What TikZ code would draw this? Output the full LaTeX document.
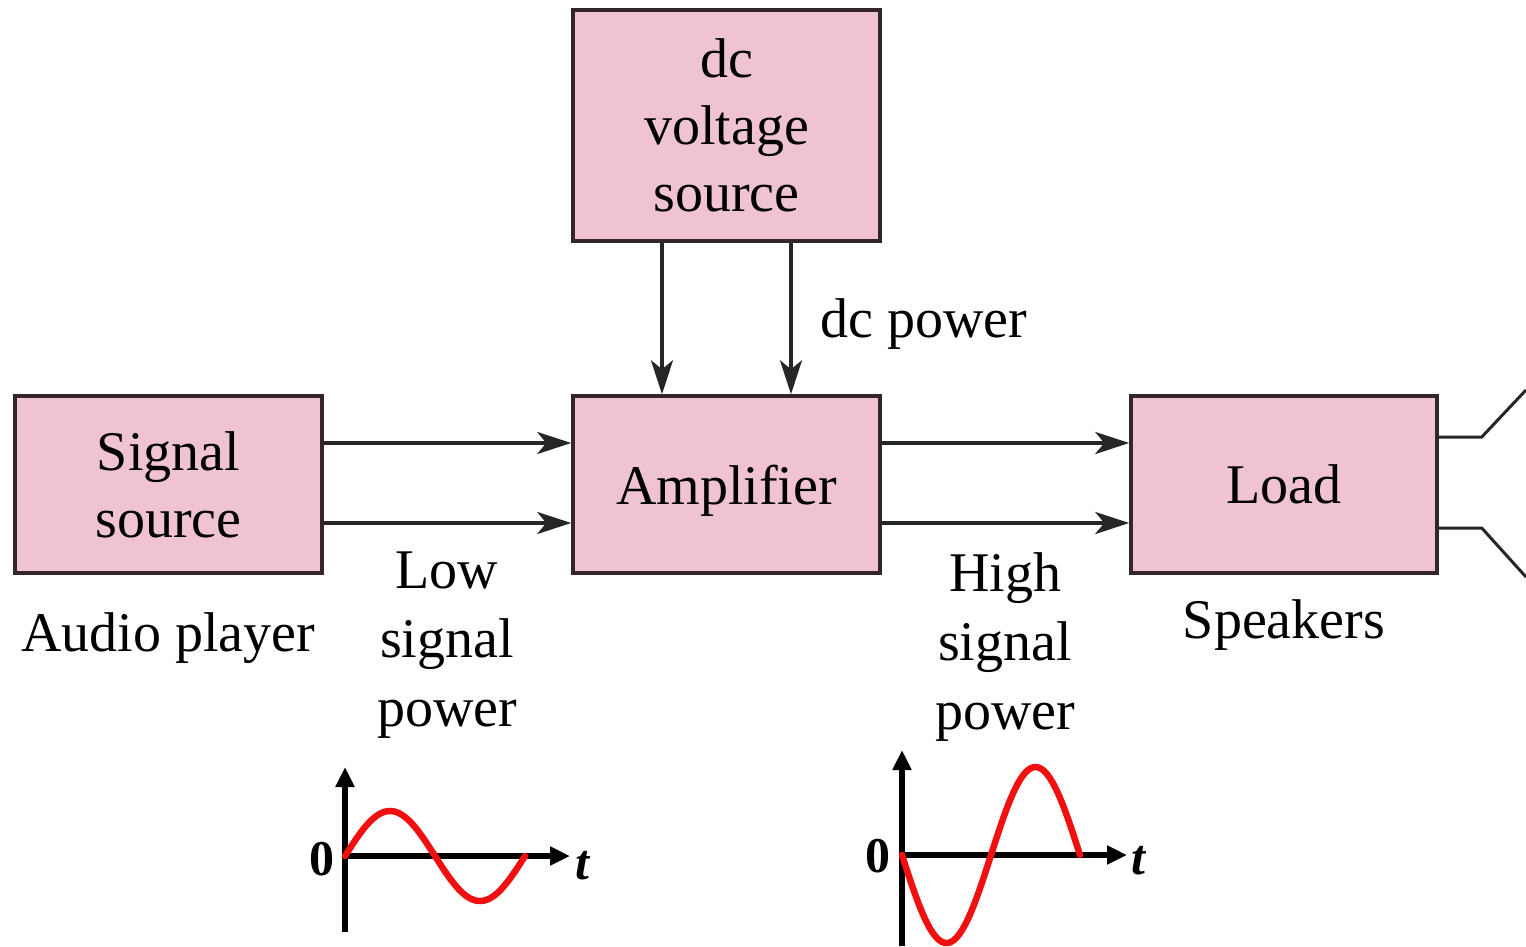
\documentclass[tikz,border=0pt]{standalone}
\usepackage{fontspec}
\setmainfont{Liberation Serif}
\usetikzlibrary{arrows.meta}
\definecolor{boxpink}{HTML}{EFC3D3}
\definecolor{boxline}{HTML}{332529}
\definecolor{wavered}{HTML}{F01010}
\tikzset{
  blk/.style={draw=boxline, fill=boxpink, line width=3.5pt, minimum width=307pt, align=center, inner sep=0pt,
              font=\fontsize{56}{67}\selectfont},
  lbl/.style={align=center, inner sep=0pt, font=\fontsize{56}{69}\selectfont},
  arr/.style={line width=3.5pt, draw=black!85, -{Stealth[length=34pt, width=22pt, inset=9pt]}},
  axis/.style={line width=5.5pt, -{Triangle[length=20pt, width=18pt]}},
  wave/.style={line width=6.5pt, wavered, line join=round, line cap=round},
  spk/.style={line width=3pt, draw=black!85},
  axlbl/.style={inner sep=0pt, font=\fontsize{50}{60}\selectfont\bfseries}
}
\begin{document}
\begin{tikzpicture}[x=1pt, y=-1pt]
\useasboundingbox (0,0) rectangle (1526,946);
% blocks
\node[blk, minimum height=231pt] (dc) at (726.5,125.5) {dc\\voltage\\source};
\node[blk, minimum height=177pt] (sig) at (168.5,484.5) {Signal\\source};
\node[blk, minimum height=177pt, text depth=0pt] (amp) at (726.5,484.5) {Amplifier};
\node[blk, minimum height=177pt, minimum width=306pt] (load) at (1284,484.5) {Load};
% connectors
\draw[arr] ([yshift=41.5pt]sig.east) -- ([yshift=41.5pt]amp.west);
\draw[arr] ([yshift=-38.5pt]sig.east) -- ([yshift=-38.5pt]amp.west);
\draw[arr] ([yshift=41.5pt]amp.east) -- ([yshift=41.5pt]load.west);
\draw[arr] ([yshift=-38.5pt]amp.east) -- ([yshift=-38.5pt]load.west);
\draw[arr] ([xshift=-64.5pt]dc.south) -- ([xshift=-64.5pt]amp.north);
\draw[arr] ([xshift=64.5pt]dc.south) -- ([xshift=64.5pt]amp.north);
% speaker
\coordinate (spkA) at (1526,390);
\coordinate (spkB) at (1526,577);
\draw[spk] ([yshift=47.5pt]load.east) -- ++(43pt,0) -- (spkA);
\draw[spk] ([yshift=-43.5pt]load.east) -- ++(43pt,0) -- (spkB);
% labels
\node[lbl, anchor=base west] (dcp) at (820,337) {dc power};
\node[lbl, anchor=base] (aud) at (168,651) {Audio player};
\node[lbl, anchor=north] (low) at (447,552) {Low\\signal\\power};
\node[lbl, anchor=north] (high) at (1005,552) {High\\signal\\power};
\node[lbl, anchor=base] (spkr) at (1284,638) {Speakers};
% waveform 1
\coordinate (o1) at (345,856);
\draw[axis] (345,932) -- (345,767);
\draw[axis] (o1) -- (570,856);
\draw[wave] plot[domain=0:180, samples=90, smooth] ({345+\x},{856-45*sin(2*\x)});
\node[axlbl] (z1) at (322,859) {0};
\node[axlbl, font=\fontsize{50}{60}\selectfont\bfseries\itshape] (t1) at (582,866) {t};
% waveform 2
\coordinate (o2) at (902,855);
\draw[axis] (902,946) -- (902,750);
\draw[axis] (o2) -- (1127,855);
\draw[wave] plot[domain=0:178, samples=90, smooth] ({902+\x},{855+88*sin(2.0225*\x)});
\node[axlbl] (z2) at (878,856) {0};
\node[axlbl, font=\fontsize{50}{60}\selectfont\bfseries\itshape] (t2) at (1138,861) {t};
\end{tikzpicture}
\end{document}
